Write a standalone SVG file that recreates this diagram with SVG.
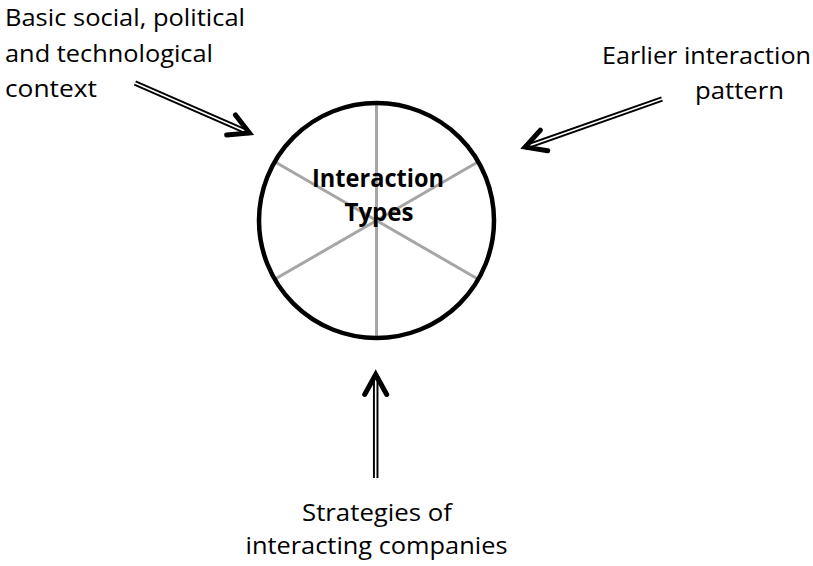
<svg xmlns="http://www.w3.org/2000/svg" xmlns:xlink="http://www.w3.org/1999/xlink" width="813" height="566" viewBox="0 0 813 566">
  <style>
    .lbl { font-family: "Open Sans", "Noto Sans", "Liberation Sans", sans-serif; font-size: 24px; fill: #000; }
    .title { font-family: "Open Sans", "Noto Sans", "Liberation Sans", sans-serif; font-size: 24.5px; font-weight: bold; fill: #000; }
    .spoke { stroke: #a6a6a6; stroke-width: 3; fill: none; }
    .ring { stroke: #000; stroke-width: 4.5; fill: none; }
    .shaft-outer { stroke: #000; stroke-width: 5.5; fill: none; }
    .shaft-inner { stroke: #fff; stroke-width: 1.6; fill: none; }
    .head { stroke: #000; stroke-width: 5; fill: none; stroke-linecap: round; stroke-linejoin: miter; }
  </style>
  <defs>
    <!-- open chevron arrowhead, vertex at origin pointing along +x -->
    <path id="chevron" d="M-20,-11 L0,0 L-20,11"/>
  </defs>
  <rect x="0" y="0" width="813" height="566" fill="#fff"/>

  <g id="connectors">
    <!-- context -> interaction types -->
    <g id="arrow-context">
      <line class="shaft-outer" x1="135" y1="83" x2="249.4" y2="133"/>
      <line class="shaft-inner" x1="135" y1="83" x2="244.8" y2="131"/>
      <use href="#chevron" xlink:href="#chevron" class="head" transform="translate(249.4,133) rotate(23.6)"/>
    </g>
    <!-- earlier pattern -> interaction types -->
    <g id="arrow-earlier">
      <line class="shaft-outer" x1="662" y1="99" x2="525.2" y2="147.1"/>
      <line class="shaft-inner" x1="662" y1="99" x2="529.9" y2="145.4"/>
      <use href="#chevron" xlink:href="#chevron" class="head" transform="translate(525.2,147.1) rotate(160.6)"/>
    </g>
    <!-- strategies -> interaction types -->
    <g id="arrow-strategies">
      <line class="shaft-outer" x1="375.7" y1="478" x2="375.7" y2="374.5"/>
      <line class="shaft-inner" x1="375.7" y1="478" x2="375.7" y2="379.5"/>
      <use href="#chevron" xlink:href="#chevron" class="head" transform="translate(375.7,374.5) rotate(-90)"/>
    </g>
  </g>

  <g id="interaction-types">
    <line class="spoke" x1="376.5" y1="103" x2="376.5" y2="338"/>
    <line class="spoke" x1="275.2" y1="162" x2="477.8" y2="279"/>
    <line class="spoke" x1="275.2" y1="279" x2="477.8" y2="162"/>
    <circle class="ring" cx="376.5" cy="220.5" r="117.5"/>
    <text class="title" x="312" y="186.7" textLength="132" lengthAdjust="spacingAndGlyphs">Interaction</text>
    <text class="title" x="344.5" y="221" textLength="69" lengthAdjust="spacingAndGlyphs">Types</text>
  </g>

  <g id="context">
    <text class="lbl" x="5" y="26" textLength="240" lengthAdjust="spacingAndGlyphs">Basic social, political</text>
    <text class="lbl" x="5" y="61.5" textLength="208" lengthAdjust="spacingAndGlyphs">and technological</text>
    <text class="lbl" x="5" y="97" textLength="92" lengthAdjust="spacingAndGlyphs">context</text>
  </g>

  <g id="earlier-pattern">
    <text class="lbl" x="602" y="63.5" textLength="209" lengthAdjust="spacingAndGlyphs">Earlier interaction</text>
    <text class="lbl" x="695" y="98.5" textLength="89" lengthAdjust="spacingAndGlyphs">pattern</text>
  </g>

  <g id="strategies">
    <text class="lbl" x="302" y="520.7" textLength="150" lengthAdjust="spacingAndGlyphs">Strategies of</text>
    <text class="lbl" x="245.5" y="554" textLength="262" lengthAdjust="spacingAndGlyphs">interacting companies</text>
  </g>
</svg>
